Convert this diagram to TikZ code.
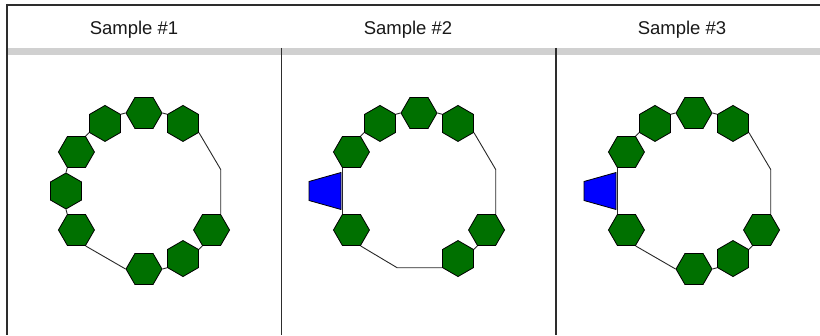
\documentclass[tikz,border=0pt]{standalone}
\usepackage{fontspec}
\setmainfont{Liberation Sans}
\usetikzlibrary{shapes.geometric}

\definecolor{hexgreen}{RGB}{0,112,0}
\definecolor{sugarblue}{RGB}{0,0,255}
\definecolor{bandgray}{RGB}{208,208,208}
\definecolor{framegray}{RGB}{45,45,45}
\definecolor{bondgray}{RGB}{40,40,40}

\tikzset{
  hexflat/.style={regular polygon, regular polygon sides=6, minimum size=36pt,
    inner sep=0pt, draw=black, fill=hexgreen, line width=0.8pt},
  hexpoint/.style={hexflat, shape border rotate=30},
  bond/.style={draw=bondgray, line width=0.9pt},
  frame/.style={draw=framegray, line width=1.6pt},
  trap/.style={draw=black, fill=sugarblue, line width=0.8pt, line join=miter},
  header/.style={anchor=base, text=black!90, font=\fontsize{18.5}{22}\selectfont}
}

\begin{document}
\begin{tikzpicture}[x=1pt, y=1pt]
\useasboundingbox (0,0) rectangle (820,335);
\fill[white] (0,0) rectangle (820,335);

% table frame and header row
\fill[bandgray] (7,280) rectangle (820,287);
\draw[frame] (6,330) -- (820,330);
\draw[frame] (7,331) -- (7,0);
\draw[frame] (281.5,287) -- (281.5,0);
\draw[frame] (556,287) -- (556,0);

\node[header] (h1) at (134,300.7) {Sample \#1};
\node[header] (h2) at (408,300.7) {Sample \#2};
\node[header] (h3) at (682,300.7) {Sample \#3};

% ---------- sample 1 ----------
\begin{scope}[shift={(144,144)}]
  \node[hexflat]  (s1a) at (90:78)  {};
  \node[hexpoint] (s1b) at (60:78)  {};
  \node[hexpoint] (s1c) at (120:78) {};
  \node[hexflat]  (s1d) at (150:78) {};
  \node[hexpoint] (s1e) at (180:78) {};
  \node[hexflat]  (s1f) at (210:78) {};
  \node[hexflat]  (s1g) at (270:78) {};
  \node[hexpoint] (s1h) at (300:78) {};
  \node[hexflat]  (s1i) at (330:78) {};
  \coordinate (s1p) at (15.5:80);
\end{scope}
\draw[bond] (s1a.0) -- (s1b.150);
\draw[bond] (s1c.30) -- (s1a.180);
\draw[bond] (s1d.60) -- (s1c.-150);
\draw[bond] (s1e.90) -- (s1d.-120);
\draw[bond] (s1f.120) -- (s1e.-90);
\draw[bond] (s1f.-60) -- (s1g.180);
\draw[bond] (s1g.0) -- (s1h.-150);
\draw[bond] (s1h.30) -- (s1i.-120);
\draw[bond] (s1b.-30) -- (s1i.60 |- s1p) -- (s1i.60);

% ---------- sample 2 ----------
\begin{scope}[shift={(419,144)}]
  \node[hexflat]  (s2a) at (90:78)  {};
  \node[hexpoint] (s2b) at (60:78)  {};
  \node[hexpoint] (s2c) at (120:78) {};
  \node[hexflat]  (s2d) at (150:78) {};
  \coordinate     (s2t) at (180:78);
  \node[hexflat]  (s2e) at (210:78) {};
  \node[hexpoint] (s2f) at (300:78) {};
  \node[hexflat]  (s2g) at (330:78) {};
  \coordinate (s2p) at (15.5:80);
  \coordinate (s2q) at (254:79);
\end{scope}
\draw[bond] (s2a.0) -- (s2b.150);
\draw[bond] (s2c.30) -- (s2a.180);
\draw[bond] (s2d.60) -- (s2c.-150);
\draw[bond] (s2d.-120) -- (s2e.120);
\draw[bond] (s2e.-60) -- (s2q |- s2f.-150) -- (s2f.-150);
\draw[bond] (s2f.30) -- (s2g.-120);
\draw[bond] (s2b.-30) -- (s2g.60 |- s2p) -- (s2g.60);
\filldraw[trap] (s2t) ++(0,18.5) -- ++(-32,-9) -- ++(0,-19) -- ++(32,-9) -- cycle;

% ---------- sample 3 ----------
\begin{scope}[shift={(694,144)}]
  \node[hexflat]  (s3a) at (90:78)  {};
  \node[hexpoint] (s3b) at (60:78)  {};
  \node[hexpoint] (s3c) at (120:78) {};
  \node[hexflat]  (s3d) at (150:78) {};
  \coordinate     (s3t) at (180:78);
  \node[hexflat]  (s3e) at (210:78) {};
  \node[hexflat]  (s3f) at (270:78) {};
  \node[hexpoint] (s3g) at (300:78) {};
  \node[hexflat]  (s3h) at (330:78) {};
  \coordinate (s3p) at (15.5:80);
\end{scope}
\draw[bond] (s3a.0) -- (s3b.150);
\draw[bond] (s3c.30) -- (s3a.180);
\draw[bond] (s3d.60) -- (s3c.-150);
\draw[bond] (s3d.-120) -- (s3e.120);
\draw[bond] (s3e.-60) -- (s3f.180);
\draw[bond] (s3f.0) -- (s3g.-150);
\draw[bond] (s3g.30) -- (s3h.-120);
\draw[bond] (s3b.-30) -- (s3h.60 |- s3p) -- (s3h.60);
\filldraw[trap] (s3t) ++(0,18.5) -- ++(-32,-9) -- ++(0,-19) -- ++(32,-9) -- cycle;

\end{tikzpicture}
\end{document}
